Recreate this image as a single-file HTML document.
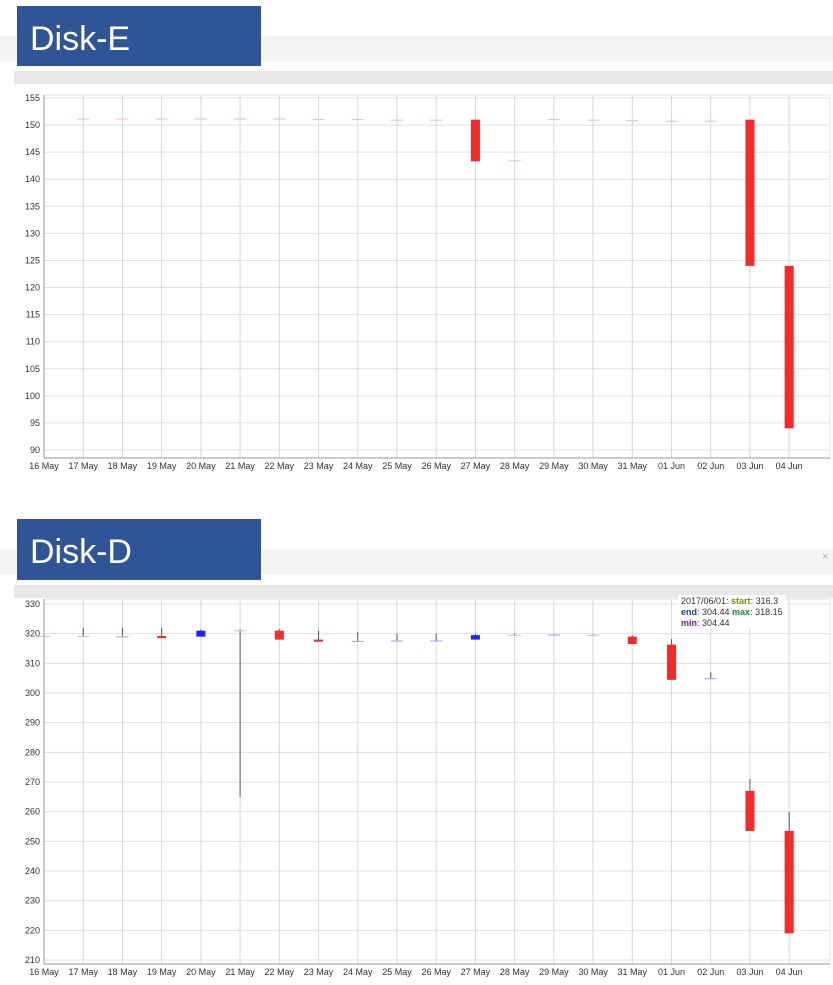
<!DOCTYPE html>
<html><head><meta charset="utf-8"><style>
body{margin:0;width:833px;height:985px;background:#fff;overflow:hidden;font-family:"Liberation Sans",sans-serif;}
svg{position:absolute;left:0;top:0}
</style></head><body>
<svg id="s" width="833" height="985">
 <rect x="0" y="36" width="833" height="25" fill="#f5f5f5"/>
 <rect x="17" y="6" width="244" height="60" fill="#2f5597"/>
 <text x="30" y="50" font-size="34" fill="#fff">Disk-E</text>
 <rect x="14" y="71" width="819" height="13" fill="#e8e8e8"/>
 <rect x="0" y="549" width="833" height="25" fill="#f5f5f5"/>
 <rect x="17" y="519" width="244" height="61" fill="#2f5597"/>
 <text x="30" y="563" font-size="34" fill="#fff">Disk-D</text>
 <text x="822" y="560" font-size="11" fill="#aaa">×</text>
 <rect x="14" y="585" width="819" height="13" fill="#e8e8e8"/>
 <g id="cE"></g>
 <g id="cD"></g>
 <g font-size="9">
  <rect x="678" y="595" width="108" height="34" fill="#fff" fill-opacity="0.9"/>
  <text x="681" y="604" fill="#333">2017/06/01: <tspan fill="#7a8a00" font-weight="bold">start</tspan>: 316.3</text>
  <text x="681" y="615" fill="#333"><tspan fill="#1f3f9a" font-weight="bold">end</tspan>: 304.44 <tspan fill="#1a8a3a" font-weight="bold">max</tspan>: 318.15</text>
  <text x="681" y="626" fill="#333"><tspan fill="#7a1aa0" font-weight="bold">min</tspan>: 304.44</text>
 </g>
</svg>
<script>
const categories=["16 May","17 May","18 May","19 May","20 May","21 May","22 May","23 May","24 May","25 May","26 May","27 May","28 May","29 May","30 May","31 May","01 Jun","02 Jun","03 Jun","04 Jun"];
const eOpen=[null,151.2,151.2,151.2,151.2,151.2,151.2,151.1,151.1,151.0,151.0,151.0,143.5,151.1,151.0,150.9,150.8,150.8,151.0,124.0];
const eClose=[null,151.1,151.1,151.1,151.1,151.1,151.1,151.0,151.0,150.9,150.9,143.3,143.4,151.0,150.9,150.8,150.7,150.7,124.0,94.0];
const eTicks=[90,95,100,105,110,115,120,125,130,135,140,145,150,155];
const dOpen=[319.2,319.2,319.0,319.2,319.0,321.2,321.0,318.0,317.4,317.6,317.6,318.0,319.6,319.6,319.6,319.0,316.3,304.8,267.0,253.5];
const dClose=[319.0,319.0,319.1,318.5,321.0,320.8,318.0,317.3,317.5,317.7,317.7,319.5,319.5,319.7,319.4,316.5,304.44,305.0,253.5,219.0];
const dHigh=[319.5,322.0,322.0,322.0,321.5,321.5,321.5,321.0,320.5,320.0,320.0,320.0,320.0,319.8,319.8,319.5,318.15,307.0,271.0,260.0];
const dLow=[319.0,319.0,319.0,318.5,319.0,265.0,318.0,317.3,317.3,317.5,317.5,318.0,319.4,319.5,319.4,316.5,304.44,304.8,253.5,219.0];
const dTicks=[210,220,230,240,250,260,270,280,290,300,310,320,330];
const NS='http://www.w3.org/2000/svg';
function mk(p,t,a){const e=document.createElementNS(NS,t);for(const k in a)e.setAttribute(k,a[k]);p.appendChild(e);return e;}
function draw(g,ticks,yTop,yBot,plotTop,plotBot,open,close,high,low){
 const x0=44,step=39.22,right=830;
 const xs=i=>x0+i*step;
 const ys=v=>yBot+(v-ticks[0])/(ticks[ticks.length-1]-ticks[0])*(yTop-yBot);
 mk(g,'rect',{x:x0,y:plotTop,width:right-x0,height:plotBot-plotTop,fill:'#fff',stroke:'#e0e0e0'});
 ticks.forEach(t=>{const y=ys(t);
  const l=mk(g,'line',{x1:x0,x2:right,y1:y,y2:y,stroke:'#e0e0e0'});
  
  
  const tx=mk(g,'text',{x:x0-4,y:y+3,'font-size':9,'text-anchor':'end',fill:'#333'});tx.textContent=t;
  
  
 });
 categories.forEach((c,i)=>{const x=xs(i);
  const l=mk(g,'line',{x1:x,x2:x,y1:plotTop,y2:plotBot,stroke:'#d8d8d8'});
  
  
  const tx=mk(g,'text',{x:x,y:plotBot+11,'font-size':9,'text-anchor':'middle',fill:'#333'});tx.textContent=c;
  
  
 });
 mk(g,'line',{x1:x0,x2:x0,y1:plotTop,y2:plotBot,stroke:'#999'});
 mk(g,'line',{x1:x0,x2:right,y1:plotBot,y2:plotBot,stroke:'#999'});
 open.forEach((o,i)=>{ if(o==null)return; const c=close[i]; const x=xs(i);
  if(high){const w=mk(g,'line',{x1:x,x2:x,y1:ys(high[i]),y2:ys(low[i]),stroke:'#555','stroke-width':1});
   
   }
  const top=ys(Math.max(o,c)),bot=ys(Math.min(o,c));const h=Math.max(bot-top,1);
  const up=c>o; const thin=Math.abs(c-o)<0.5;
  let col=up?'#2020ff':'#f52a2a'; if(thin) col=up?'#a0a0ff':'#f8b8b8';
  const r=mk(g,'rect',{x:x-(thin?6:4.5),y:top,width:thin?12:9,height:h,fill:col});
  
  
 });
}
draw(document.getElementById('cE'),eTicks,98,450,95,458,eOpen,eClose,null,null);
draw(document.getElementById('cD'),dTicks,604,960,599,964,dOpen,dClose,dHigh,dLow);
</script>
</body></html>
